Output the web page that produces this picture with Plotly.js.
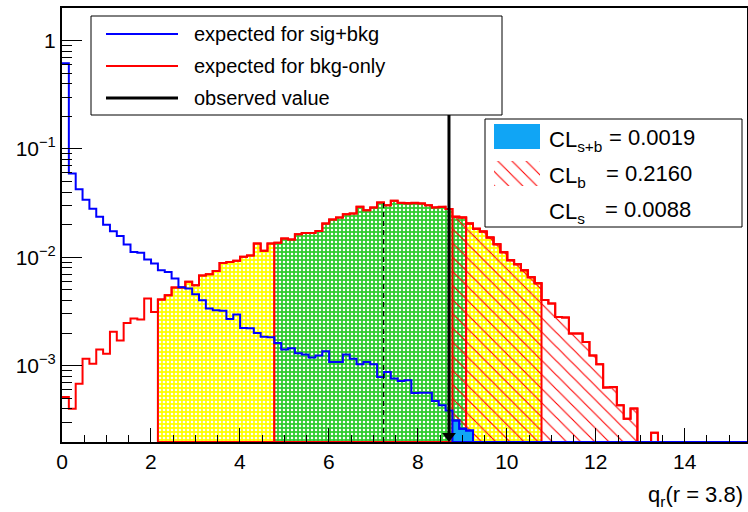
<!DOCTYPE html>
<html><head><meta charset="utf-8">
<script src="https://cdn.plot.ly/plotly-3.0.1.min.js"></script>
<style>html,body{margin:0;padding:0;background:#fff}#chart{width:748px;height:512px}</style>
</head><body><div id="chart"></div>
<script>
// ---------------- data ----------------
const qMin = 0, qMax = 15.4;
const bkgOnly = [
 5.13e-4,4.00e-4,6.81e-4,1.16e-3,1.04e-3,1.41e-3,1.29e-3,2.05e-3,1.71e-3,2.48e-3,
 2.72e-3,2.66e-3,4.16e-3,3.13e-3,4.07e-3,4.47e-3,5.26e-3,5.26e-3,5.93e-3,5.52e-3,
 6.79e-3,6.98e-3,7.48e-3,8.87e-3,9.06e-3,9.27e-3,1.01e-2,1.04e-2,1.34e-2,1.15e-2,
 1.34e-2,1.36e-2,1.49e-2,1.46e-2,1.63e-2,1.68e-2,1.68e-2,1.75e-2,2.05e-2,2.23e-2,
 2.33e-2,2.49e-2,2.54e-2,2.92e-2,2.72e-2,2.88e-2,3.21e-2,3.03e-2,3.32e-2,3.18e-2,
 3.14e-2,3.18e-2,3.14e-2,3.03e-2,2.88e-2,2.92e-2,2.79e-2,2.37e-2,2.33e-2,2.05e-2,
 1.83e-2,1.73e-2,1.52e-2,1.32e-2,1.11e-2,9.40e-3,8.63e-3,7.60e-3,6.55e-3,5.77e-3,
 4.04e-3,3.74e-3,2.81e-3,2.78e-3,1.98e-3,1.98e-3,1.65e-3,1.24e-3,1.03e-3,6.27e-4,
 6.34e-4,4.30e-4,3.24e-4,4.01e-4,0,0,2.40e-4,0,0,0,
 0,0,0,0,0,0,0,0,0,0];
const sigBkg = [
 0.618,5.94e-2,4.24e-2,3.40e-2,2.80e-2,2.37e-2,2.00e-2,1.74e-2,1.57e-2,1.31e-2,
 1.12e-2,1.10e-2,9.55e-3,8.77e-3,7.60e-3,7.33e-3,6.37e-3,5.30e-3,5.15e-3,4.56e-3,
 4.02e-3,3.37e-3,3.24e-3,3.21e-3,2.69e-3,2.96e-3,2.22e-3,2.21e-3,2.00e-3,1.85e-3,
 1.83e-3,1.62e-3,1.41e-3,1.45e-3,1.30e-3,1.27e-3,1.19e-3,1.24e-3,1.36e-3,1.08e-3,
 1.08e-3,1.27e-3,1.16e-3,1.03e-3,1.08e-3,1.03e-3,7.85e-4,8.73e-4,7.59e-4,7.21e-4,
 7.31e-4,5.58e-4,5.62e-4,5.62e-4,4.71e-4,4.30e-4,3.86e-4,3.12e-4,2.62e-4,2.52e-4,
 0,0,0,0,0,0,0,0,0,0, 0,0,0,0,0,0,0,0,0,0,
 0,0,0,0,0,0,0,0,0,0, 0,0,0,0,0,0,0,0,0,0];
const bandEdges = [2.15, 4.77, 9.08, 10.77];   // -2s, -1s, +1s, +2s
const expMedian = 7.23;
const observed = 8.70;
const legendLabels = ['expected for sig+bkg', 'expected for bkg-only', 'observed value'];
const clLabels = ['CL<sub>s+b</sub>', 'CL<sub>b</sub>', 'CL<sub>s</sub>'];
const clValues = [0.0019, 0.2160, 0.0088];
const xTickVals = [0, 2, 4, 6, 8, 10, 12, 14];
const yTickVals = [1, 0.1, 0.01, 0.001];
const yTickText = ['1', '10<sup>\u22121</sup>', '10<sup>\u22122</sup>', '10<sup>\u22123</sup>'];
const xTitle = 'q<sub>r</sub>(r = 3.8)';

// ---------------- helpers ----------------
const Y_RANGE = [-3.705, 0.301];
const PLOT_TOP = 8, PLOT_H = 434;
const span = Y_RANGE[1] - Y_RANGE[0];
const floorV = Math.pow(10, Y_RANGE[0]);
const n = bkgOnly.length, w = (qMax - qMin) / n;
const edges = Array.from({length: n + 1}, (_, i) => qMin + i * w);
const pixToVal = py => Math.pow(10, Y_RANGE[1] - (py - PLOT_TOP) / PLOT_H * span);
const FONT = 'Liberation Sans, Arial, Helvetica, sans-serif';

function stepLine(vals) {
  const x = [], y = [];
  for (let i = 0; i < n; i++) { x.push(edges[i]); y.push(vals[i] > 0 ? vals[i] : floorV); }
  x.push(edges[n]); y.push(vals[n - 1] > 0 ? vals[n - 1] : floorV);
  return {x, y};
}
function regionPoly(vals, lo, hi) {
  const idx = [];
  for (let i = 0; i < n; i++) if (edges[i] >= lo - 1e-9 && edges[i] < hi) idx.push(i);
  const x = [edges[idx[0]]], y = [floorV];
  idx.forEach(i => { const v = vals[i] > 0 ? vals[i] : floorV; x.push(edges[i], edges[i + 1]); y.push(v, v); });
  x.push(edges[idx[idx.length - 1] + 1]); y.push(floorV);
  x.push(edges[idx[0]]); y.push(floorV);
  return {x, y};
}

const yellowPat = {shape: '.', bgcolor: '#ffff00', fgcolor: '#ffffff', size: 4, solidity: 0.35};
const greenPat  = {shape: '.', bgcolor: '#2fcc2f', fgcolor: '#ffffff', size: 4, solidity: 0.3};
const hatchPat  = {shape: '\\', bgcolor: 'rgba(0,0,0,0)', fgcolor: '#ff0000', size: 10, solidity: 0.11};
const RED = '#ff0000', BLUE = '#0000ff', AZURE = '#10a5f5';

const traces = [];
function poly(p, extra) {
  traces.push(Object.assign({type: 'scatter', mode: 'lines', x: p.x, y: p.y, fill: 'toself',
    hoverinfo: 'skip', showlegend: false}, extra));
}
poly(regionPoly(bkgOnly, bandEdges[0], bandEdges[1]), {fillcolor: '#ffff00', fillpattern: yellowPat, line: {color: RED, width: 2}});
poly(regionPoly(bkgOnly, bandEdges[1], bandEdges[2]), {fillcolor: '#2fcc2f', fillpattern: greenPat, line: {color: RED, width: 2}});
poly(regionPoly(bkgOnly, bandEdges[2], bandEdges[3]), {fillcolor: '#ffff00', fillpattern: yellowPat, line: {color: RED, width: 2}});
poly(regionPoly(bkgOnly, observed, qMax + 1), {fillcolor: 'rgba(0,0,0,0)', fillpattern: hatchPat, line: {color: RED, width: 2}});
const r = stepLine(bkgOnly);
traces.push({type: 'scatter', mode: 'lines', x: r.x, y: r.y, line: {color: RED, width: 2, shape: 'hv'}, hoverinfo: 'skip', showlegend: false});
poly(regionPoly(sigBkg, observed, qMax + 1), {fillcolor: AZURE, line: {color: BLUE, width: 2}});
const b = stepLine(sigBkg);
traces.push({type: 'scatter', mode: 'lines', x: b.x, y: b.y, line: {color: BLUE, width: 2, shape: 'hv'}, hoverinfo: 'skip', showlegend: false});
// median
const medBin = Math.floor((expMedian - qMin) / w);
traces.push({type: 'scatter', mode: 'lines', x: [expMedian, expMedian], y: [floorV, bkgOnly[medBin]],
  line: {color: '#000', width: 1.3, dash: '5px,4px'}, hoverinfo: 'skip', showlegend: false});
// observed arrow
traces.push({type: 'scatter', mode: 'lines', x: [observed, observed], y: [pixToVal(442 - 8), pixToVal(115)],
  line: {color: '#000', width: 3}, hoverinfo: 'skip', showlegend: false});
traces.push({type: 'scatter', mode: 'markers', x: [observed], y: [pixToVal(442 - 6)],
  marker: {symbol: 'triangle-down', size: 12, color: '#000'}, hoverinfo: 'skip', showlegend: false, cliponaxis: false});

// ---------------- legends (pixel overlay axes) ----------------
function pxTrace(x, y, extra) {
  traces.push(Object.assign({type: 'scatter', mode: 'lines', x, y, xaxis: 'x2', yaxis: 'y2',
    hoverinfo: 'skip', showlegend: false}, extra));
}
function box(x0, y0, x1, y1, extra) { pxTrace([x0, x1, x1, x0, x0], [y0, y0, y1, y1, y0], Object.assign({fill: 'toself'}, extra)); }
box(91, 16, 502, 115, {fillcolor: '#fff', line: {color: '#000', width: 1}});
box(485, 119, 742, 227, {fillcolor: '#fff', line: {color: '#000', width: 1}});
const legRows = [34, 66, 98];
const legColors = [BLUE, RED, '#000'];
const legWidths = [2, 2, 3];
legRows.forEach((yy, i) => pxTrace([106, 178], [yy, yy], {line: {color: legColors[i], width: legWidths[i]}}));
box(494, 124, 540, 149, {fillcolor: AZURE, line: {color: AZURE, width: 0}});
box(494, 161, 540, 186, {fillcolor: 'rgba(0,0,0,0)', fillpattern: hatchPat, line: {width: 0}});

const annotations = [];
legRows.forEach((yy, i) => annotations.push({xref: 'x2', yref: 'y2', x: 192, y: yy, xanchor: 'left', yanchor: 'middle',
  text: legendLabels[i], showarrow: false, font: {family: FONT, size: 20, color: '#000'}}));
const clRows = [137, 173, 209];
const clEqX = [607, 604, 603];
clRows.forEach((yy, i) => {
  annotations.push({xref: 'x2', yref: 'y2', x: 547, y: yy + 4, xanchor: 'left', yanchor: 'middle',
    text: clLabels[i], showarrow: false, font: {family: FONT, size: 22, color: '#000'}});
  annotations.push({xref: 'x2', yref: 'y2', x: clEqX[i], y: yy, xanchor: 'left', yanchor: 'middle',
    text: '= ' + clValues[i].toFixed(4), showarrow: false, font: {family: FONT, size: 22, color: '#000'}});
});
annotations.push({xref: 'paper', yref: 'paper', x: (745 - 62) / 685, y: (442 - 496) / 434, xanchor: 'right', yanchor: 'middle',
  text: xTitle, showarrow: false, font: {family: FONT, size: 22, color: '#000'}});

// minor ticks on y
const minorY = [];
for (let d = -4; d <= 0; d++) for (let m = 2; m <= 9; m++) minorY.push(m * Math.pow(10, d));

const layout = {
  width: 748, height: 512,
  margin: {l: 62, r: 1, t: 8, b: 70, pad: 0},
  paper_bgcolor: '#fff', plot_bgcolor: '#fff',
  showlegend: false,
  font: {family: FONT, color: '#000'},
  xaxis: {range: [qMin, qMax], showgrid: false, zeroline: false, showline: true, linecolor: '#000', linewidth: 2, mirror: true,
    ticks: 'inside', ticklen: 14, tickwidth: 1, tickcolor: '#000', tickmode: 'array', tickvals: xTickVals,
    ticktext: xTickVals.map(String), tickfont: {family: FONT, size: 21, color: '#000'},
    minor: {tickmode: 'linear', tick0: 0, dtick: 0.5, ticks: 'inside', ticklen: 7, tickwidth: 1, tickcolor: '#000'}},
  yaxis: {type: 'log', range: Y_RANGE, showgrid: false, zeroline: false, showline: true, linecolor: '#000', linewidth: 2, mirror: true,
    ticks: 'inside', ticklen: 20, tickwidth: 1, tickcolor: '#000', tickmode: 'array', tickvals: yTickVals, ticktext: yTickText,
    tickfont: {family: FONT, size: 21, color: '#000'},
    minor: {tickmode: 'array', tickvals: minorY, ticks: 'inside', ticklen: 10, tickwidth: 1, tickcolor: '#000'}},
  xaxis2: {overlaying: 'x', anchor: 'y2', range: [62, 747], visible: false, fixedrange: true},
  yaxis2: {overlaying: 'y', anchor: 'x2', range: [442, 8], visible: false, fixedrange: true},
  annotations
};
Plotly.newPlot('chart', traces, layout, {staticPlot: true});
</script></body></html>
